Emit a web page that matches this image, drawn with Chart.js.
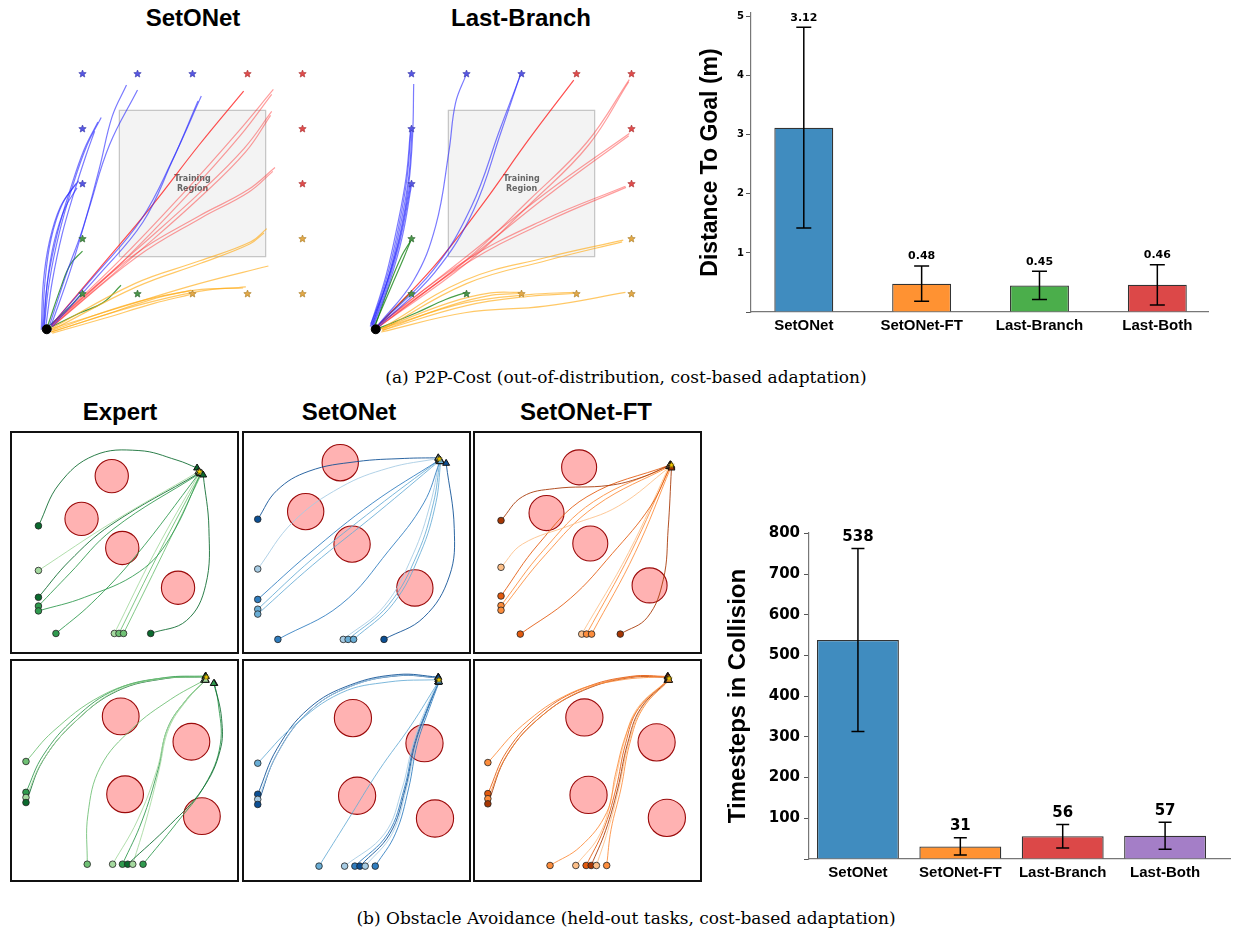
<!DOCTYPE html>
<html>
<head>
<meta charset="utf-8">
<script src="https://cdn.jsdelivr.net/npm/chart.js@4.4.0/dist/chart.umd.min.js"></script>
<style>
    body { margin: 0; background: #fff; width: 1253px; height: 936px; position: relative; overflow: hidden; font-family: "Liberation Sans", Arial, sans-serif; }
    canvas { position: absolute; }
    .title { position: absolute; font-weight: bold; font-size: 24px; transform: translate(-50%, -50%); white-space: nowrap; color: #000; }
    .caption { position: absolute; font-family: "DejaVu Serif", serif; font-size: 17px; transform: translate(-50%, -50%); white-space: nowrap; color: #000; }
    .panel { position: absolute; width: 229px; height: 223px; border: 2.5px solid #111; box-sizing: border-box; }
    .panel canvas { position: static; display: block; }
</style>
</head>
<body>
<div class="title" style="left:193px; top:18px">SetONet</div>
<div class="title" style="left:521px; top:18px">Last-Branch</div>
<canvas id="p2pSetonet" width="308" height="308" style="left:22px; top:46px"></canvas>
<canvas id="p2pLastBranch" width="308" height="308" style="left:351px; top:46px"></canvas>
<canvas id="p2pBars" width="563" height="340" style="left:690px; top:0px"></canvas>
<div class="caption" style="left:626px; top:377px">(a) P2P-Cost (out-of-distribution, cost-based adaptation)</div>

<div class="title" style="left:120px; top:412px">Expert</div>
<div class="title" style="left:349px; top:412px">SetONet</div>
<div class="title" style="left:586px; top:412px">SetONet-FT</div>
<div class="panel" style="left:10px; top:431px"><canvas id="obsExpert1" width="224" height="218"></canvas></div>
<div class="panel" style="left:242px; top:431px"><canvas id="obsSetonet1" width="224" height="218"></canvas></div>
<div class="panel" style="left:473px; top:431px"><canvas id="obsFT1" width="224" height="218"></canvas></div>
<div class="panel" style="left:10px; top:659px"><canvas id="obsExpert2" width="224" height="218"></canvas></div>
<div class="panel" style="left:242px; top:659px"><canvas id="obsSetonet2" width="224" height="218"></canvas></div>
<div class="panel" style="left:473px; top:659px"><canvas id="obsFT2" width="224" height="218"></canvas></div>
<canvas id="obsBars" width="543" height="400" style="left:710px; top:490px"></canvas>
<div class="caption" style="left:626px; top:918px">(b) Obstacle Avoidance (held-out tasks, cost-based adaptation)</div>

<script>
// ---------- (a) P2P-Cost: goal grid, start, training region (grid units) ----------
const startPoint = [0.35, 0.35];
const trainingRegion = [1.67, 1.67, 4.33, 4.33];
const goalsBlue = [[1, 5], [2, 5], [3, 5], [1, 4], [1, 3]];
const goalsRed = [[4, 5], [5, 5], [5, 4], [5, 3]];
const goalsOrange = [[5, 2], [3, 1], [4, 1], [5, 1]];
const goalsGreen = [[1, 2], [1, 1], [2, 1]];

// SetONet rollouts
const setonetBlue = [
    [[0.30, 0.36], [0.40, 1.23], [0.58, 2.11], [0.81, 2.92], [1.08, 3.69], [1.34, 4.20]],
    [[0.28, 0.36], [0.37, 1.25], [0.55, 2.12], [0.78, 2.90], [1.03, 3.62], [1.28, 4.12]],
    [[0.33, 0.38], [0.45, 1.22], [0.63, 2.08], [0.86, 2.88], [1.06, 3.50], [1.22, 3.95]],
    [[0.27, 0.36], [0.32, 1.24], [0.43, 2.00], [0.64, 2.64], [0.93, 3.05]],
    [[0.25, 0.34], [0.29, 1.22], [0.40, 1.95], [0.60, 2.58], [0.88, 3.00]],
    [[0.30, 0.38], [0.36, 1.20], [0.48, 1.92], [0.68, 2.55], [0.90, 2.92]],
    [[0.40, 0.42], [0.73, 1.42], [1.02, 2.23], [1.31, 3.29], [1.54, 4.22], [1.80, 4.79]],
    [[0.43, 0.42], [0.78, 1.42], [1.13, 2.58], [1.49, 3.70], [2.00, 4.70]],
    [[0.43, 0.42], [1.25, 1.36], [2.07, 2.35], [2.65, 3.46], [3.16, 4.59]],
    [[0.45, 0.40], [1.28, 1.32], [2.10, 2.30], [2.62, 3.38], [3.10, 4.50]]
];
const setonetRed = [
    [[0.43, 0.42], [1.37, 1.53], [2.25, 2.58], [3.12, 3.70], [3.93, 4.68]],
    [[0.43, 0.42], [1.66, 1.59], [2.83, 2.82], [3.82, 3.93], [4.47, 4.71]],
    [[0.45, 0.40], [1.70, 1.55], [2.88, 2.76], [3.86, 3.86], [4.44, 4.62]],
    [[0.43, 0.42], [1.95, 1.77], [3.12, 2.82], [3.94, 3.64], [4.44, 4.31]],
    [[0.45, 0.40], [1.98, 1.72], [3.15, 2.76], [3.97, 3.58], [4.42, 4.24]],
    [[0.43, 0.42], [1.95, 1.71], [3.12, 2.41], [4.00, 2.88], [4.50, 3.29]],
    [[0.45, 0.40], [1.98, 1.66], [3.15, 2.37], [4.02, 2.84], [4.46, 3.22]]
];
const setonetOrange = [
    [[0.43, 0.36], [1.95, 1.18], [3.12, 1.59], [4.06, 1.94], [4.35, 2.18]],
    [[0.45, 0.34], [1.98, 1.12], [3.15, 1.55], [4.04, 1.90], [4.30, 2.10]],
    [[0.43, 0.36], [1.95, 0.83], [3.12, 1.18], [4.38, 1.50]],
    [[0.43, 0.30], [1.95, 0.77], [3.12, 1.04], [3.97, 1.12]],
    [[0.45, 0.33], [1.90, 0.82], [3.05, 1.06], [3.92, 1.10]],
    [[0.43, 0.30], [1.37, 0.60], [2.25, 0.89], [2.98, 1.06]],
    [[0.45, 0.28], [1.40, 0.55], [2.30, 0.82], [2.95, 0.98]]
];
const setonetGreen = [
    [[0.37, 0.42], [0.61, 1.12], [0.78, 1.53], [1.00, 1.77]],
    [[0.37, 0.36], [0.96, 0.65], [1.37, 0.83], [1.70, 1.15]],
    [[0.37, 0.39], [0.78, 0.77], [1.02, 1.04]]
];

// Last-Branch rollouts
const lastBranchBlue = [
    [[0.26, 0.45], [0.57, 1.24], [0.80, 2.12], [0.95, 2.99], [1.02, 3.87], [1.04, 4.81]],
    [[0.27, 0.42], [0.57, 1.36], [0.77, 2.23], [0.92, 3.11], [0.99, 3.98]],
    [[0.25, 0.40], [0.54, 1.34], [0.74, 2.22], [0.90, 3.10], [0.98, 3.95]],
    [[0.29, 0.43], [0.60, 1.38], [0.80, 2.25], [0.95, 3.12], [1.01, 3.99]],
    [[0.29, 0.39], [0.57, 1.18], [0.80, 2.00], [0.99, 2.98]],
    [[0.27, 0.38], [0.54, 1.16], [0.78, 1.98], [0.97, 2.96]],
    [[0.31, 0.41], [0.60, 1.20], [0.83, 2.02], [1.00, 2.97]],
    [[0.39, 0.42], [1.04, 1.24], [1.44, 2.23], [1.68, 3.58], [1.80, 4.46], [1.99, 4.97]],
    [[0.39, 0.42], [1.39, 1.42], [2.09, 2.58], [2.61, 3.99], [2.98, 4.97]],
    [[0.41, 0.40], [1.42, 1.38], [2.13, 2.52], [2.63, 3.94], [2.97, 4.95]]
];
const lastBranchRed = [
    [[0.39, 0.42], [1.39, 1.47], [2.26, 2.58], [3.14, 3.81], [3.95, 4.88]],
    [[0.39, 0.42], [1.97, 1.59], [3.14, 2.70], [4.19, 3.75], [4.96, 4.89]],
    [[0.41, 0.40], [2.00, 1.55], [3.18, 2.65], [4.22, 3.70], [4.95, 4.85]],
    [[0.39, 0.42], [1.97, 1.65], [3.43, 2.82], [4.96, 3.91]],
    [[0.41, 0.40], [2.00, 1.60], [3.46, 2.77], [4.95, 3.87]],
    [[0.39, 0.42], [1.97, 1.59], [3.43, 2.35], [4.89, 2.95]],
    [[0.41, 0.40], [2.00, 1.55], [3.46, 2.31], [4.90, 2.93]]
];
const lastBranchOrange = [
    [[0.45, 0.36], [1.97, 1.24], [3.43, 1.65], [4.85, 1.97]],
    [[0.47, 0.34], [2.00, 1.18], [3.46, 1.60], [4.83, 1.94]],
    [[0.45, 0.30], [1.97, 0.65], [3.43, 0.77], [4.89, 1.02]],
    [[0.45, 0.36], [1.97, 0.83], [3.14, 0.98], [3.95, 1.02]],
    [[0.47, 0.33], [2.00, 0.78], [3.16, 0.95], [3.94, 1.00]],
    [[0.45, 0.36], [1.68, 0.83], [2.44, 1.01], [2.98, 1.02]],
    [[0.47, 0.33], [1.70, 0.78], [2.46, 0.97], [2.97, 1.00]]
];
const lastBranchGreen = [
    [[0.33, 0.42], [0.63, 1.12], [0.86, 1.65], [0.99, 1.97]],
    [[0.35, 0.44], [0.60, 1.15], [0.82, 1.68], [0.98, 1.95]],
    [[0.39, 0.36], [1.09, 0.65], [1.62, 0.89], [1.99, 1.02]],
    [[0.36, 0.39], [0.74, 0.77], [0.99, 1.02]]
];

// Bar chart data
const methods = ['SetONet', 'SetONet-FT', 'Last-Branch', 'Last-Both'];
const distMean = [3.12, 0.48, 0.45, 0.46];
const distStd = [1.70, 0.30, 0.24, 0.34];
const distTicks = [0, 1, 2, 3, 4, 5];
const collisionMean = [538, 31, 56, 57];
const collisionStd = [225, 21, 29, 33];
const collisionTicks = [0, 100, 200, 300, 400, 500, 600, 700, 800];

// ---------- (b) Obstacle avoidance panels (0..10 box units) ----------
// obstacles: [x, y, radius]; paths: [shade level, points]
const expertObs1 = [[4.44, 8.10, 0.76], [3.06, 6.09, 0.76], [4.92, 4.72, 0.76], [7.47, 2.85, 0.76]];
const expertGoal1 = [8.45, 8.32];
const expertPaths1 = [
    [3, [[1.09, 5.76], [2.04, 7.73], [3.64, 9.07], [5.68, 9.30], [7.42, 8.85], [8.34, 8.48]]],
    [0, [[1.09, 3.66], [4.50, 5.95], [8.40, 8.30]]],
    [3, [[1.09, 2.40], [2.50, 4.10], [4.40, 5.80], [8.45, 8.25]]],
    [2, [[1.09, 1.99], [2.50, 3.50], [4.50, 5.60], [8.50, 8.25]]],
    [2, [[1.09, 1.76], [3.20, 2.40], [5.70, 3.60], [7.10, 5.20], [8.50, 8.20]]],
    [2, [[1.89, 0.70], [3.50, 2.10], [5.50, 4.30], [8.45, 8.25]]],
    [0, [[4.56, 0.70], [6.40, 4.50], [8.45, 8.25]]],
    [1, [[4.77, 0.70], [6.60, 4.50], [8.50, 8.22]]],
    [1, [[4.98, 0.70], [6.80, 4.50], [8.55, 8.22]]],
    [3, [[6.22, 0.70], [7.86, 1.31], [8.73, 2.96], [8.88, 5.64], [8.62, 8.15]]]
];
const setonetObs1 = [[4.28, 8.73, 0.83], [2.70, 6.43, 0.83], [4.82, 4.90, 0.83], [7.69, 2.84, 0.83]];
const setonetGoal1 = [8.80, 8.92];
const setonetPaths1 = [
    [3, [[0.51, 6.07], [1.39, 7.43], [2.85, 8.33], [5.04, 8.78], [7.23, 8.93], [8.76, 8.96]]],
    [0, [[0.51, 3.73], [2.12, 5.94], [4.31, 7.58], [6.50, 8.48], [8.76, 8.93]]],
    [2, [[0.51, 2.30], [2.85, 4.45], [5.77, 6.84], [8.80, 8.85]]],
    [1, [[0.51, 1.84], [3.00, 4.20], [5.90, 6.60], [8.80, 8.85]]],
    [1, [[0.51, 1.61], [3.00, 3.90], [6.00, 6.40], [8.85, 8.85]]],
    [2, [[1.43, 0.42], [4.31, 2.06], [6.50, 4.60], [8.10, 6.84], [8.83, 8.78]]],
    [0, [[4.42, 0.42], [6.30, 2.00], [7.60, 4.40], [8.40, 6.80], [8.80, 8.80]]],
    [1, [[4.64, 0.42], [6.50, 2.06], [7.81, 4.45], [8.54, 6.84], [8.83, 8.78]]],
    [1, [[4.89, 0.42], [6.70, 2.10], [7.95, 4.50], [8.65, 6.84], [8.87, 8.78]]],
    [3, [[6.28, 0.42], [8.10, 1.46], [9.27, 3.40], [9.49, 5.64], [9.12, 8.70]]]
];
const ftObs1 = [[4.64, 8.51, 0.80], [3.15, 6.36, 0.80], [5.15, 4.93, 0.80], [7.86, 2.96, 0.80]];
const ftGoal1 = [8.86, 8.63];
const ftPaths1 = [
    [3, [[1.07, 6.01], [2.05, 7.13], [3.51, 7.51], [6.00, 7.66], [7.47, 8.03], [8.81, 8.63]]],
    [0, [[1.07, 3.81], [2.05, 4.90], [4.25, 5.79], [6.44, 6.69], [8.81, 8.55]]],
    [2, [[1.07, 2.46], [2.78, 4.90], [5.00, 7.13], [8.81, 8.63]]],
    [1, [[1.07, 2.01], [3.00, 4.60], [5.30, 6.90], [8.81, 8.60]]],
    [1, [[1.07, 1.79], [3.10, 4.40], [5.40, 6.70], [8.85, 8.60]]],
    [2, [[1.95, 0.67], [4.25, 2.36], [6.15, 4.45], [7.91, 6.69], [8.81, 8.55]]],
    [0, [[4.76, 0.67], [6.90, 4.50], [8.75, 8.55]]],
    [1, [[4.98, 0.67], [7.00, 4.50], [8.80, 8.55]]],
    [1, [[5.21, 0.67], [7.20, 4.50], [8.85, 8.55]]],
    [3, [[6.52, 0.67], [7.76, 1.46], [8.49, 3.25], [8.71, 5.64], [8.86, 8.48]]]
];
const expertObs2 = [[4.85, 7.52, 0.84], [8.08, 6.33, 0.84], [5.05, 3.86, 0.84], [8.56, 2.83, 0.84]];
const expertGoal2 = [8.76, 9.38];
const expertPaths2 = [
    [1, [[0.52, 5.40], [1.75, 6.81], [3.93, 8.47], [6.11, 9.22], [8.73, 9.40]]],
    [2, [[0.52, 3.95], [1.31, 5.70], [2.77, 7.45], [4.66, 8.80], [6.84, 9.34], [8.73, 9.42]]],
    [0, [[0.52, 3.71], [1.35, 5.55], [2.85, 7.35], [4.70, 8.75], [6.90, 9.32], [8.73, 9.40]]],
    [3, [[0.52, 3.47], [1.30, 5.45], [2.80, 7.30], [4.70, 8.72], [6.90, 9.30], [8.73, 9.38]]],
    [1, [[3.32, 0.57], [3.35, 2.90], [3.93, 5.16], [5.39, 6.96], [7.13, 8.32], [8.66, 9.22]]],
    [0, [[4.48, 0.57], [5.60, 2.60], [6.50, 5.00], [7.00, 6.96], [7.86, 8.32], [8.73, 9.22]]],
    [2, [[4.93, 0.57], [5.82, 2.60], [6.55, 5.00], [6.99, 6.96], [7.86, 8.32], [8.73, 9.22]]],
    [3, [[5.17, 0.57], [7.13, 2.45], [8.59, 4.11], [9.39, 5.91], [9.46, 7.41], [9.13, 9.07]]],
    [0, [[5.40, 0.57], [6.00, 2.60], [6.60, 5.00], [7.05, 6.96], [7.90, 8.32], [8.73, 9.22]]],
    [2, [[5.87, 0.57], [7.40, 2.50], [8.70, 4.30], [9.40, 6.20], [9.30, 8.20], [9.10, 9.07]]]
];
const setonetObs2 = [[4.86, 7.44, 0.85], [8.13, 6.26, 0.85], [5.05, 3.79, 0.85], [8.61, 2.72, 0.85]];
const setonetGoal2 = [8.79, 9.25];
const setonetPaths2 = [
    [1, [[0.51, 5.32], [2.12, 7.04], [4.31, 8.62], [6.50, 9.14], [8.76, 9.25]]],
    [3, [[0.51, 3.86], [1.39, 6.00], [2.85, 7.90], [4.74, 9.00], [6.93, 9.49], [8.76, 9.37]]],
    [0, [[0.51, 3.62], [1.45, 5.85], [2.90, 7.80], [4.80, 8.95], [6.95, 9.45], [8.76, 9.35]]],
    [3, [[0.51, 3.38], [1.39, 5.75], [2.85, 7.75], [4.74, 8.93], [6.93, 9.43], [8.76, 9.33]]],
    [1, [[3.31, 0.48], [4.60, 2.60], [6.06, 5.00], [7.52, 7.11], [8.76, 9.14]]],
    [0, [[4.48, 0.48], [6.30, 2.00], [7.10, 4.10], [7.60, 6.20], [8.20, 7.90], [8.76, 9.14]]],
    [2, [[4.95, 0.48], [6.45, 2.00], [7.20, 4.11], [7.66, 6.23], [8.25, 7.89], [8.76, 9.14]]],
    [3, [[5.18, 0.48], [6.55, 2.00], [7.25, 4.11], [7.70, 6.23], [8.28, 7.89], [8.78, 9.14]]],
    [0, [[5.42, 0.48], [6.65, 2.00], [7.30, 4.11], [7.75, 6.23], [8.30, 7.89], [8.78, 9.14]]],
    [2, [[5.88, 0.48], [6.80, 2.00], [7.40, 4.11], [7.80, 6.23], [8.35, 7.89], [8.80, 9.14]]]
];
const ftObs2 = [[4.88, 7.47, 0.85], [8.18, 6.30, 0.85], [5.07, 3.83, 0.85], [8.65, 2.75, 0.85]];
const ftGoal2 = [8.75, 9.32];
const ftPaths2 = [
    [1, [[0.47, 5.35], [2.06, 7.11], [4.26, 8.62], [6.47, 9.22], [8.68, 9.40]]],
    [2, [[0.47, 3.89], [1.35, 5.90], [2.94, 7.70], [4.85, 8.85], [7.00, 9.40], [8.70, 9.40]]],
    [1, [[0.47, 3.65], [1.40, 5.80], [3.00, 7.60], [4.90, 8.80], [7.05, 9.38], [8.70, 9.38]]],
    [3, [[0.47, 3.41], [1.35, 5.70], [2.94, 7.55], [4.85, 8.75], [7.00, 9.35], [8.70, 9.36]]],
    [1, [[3.31, 0.51], [4.70, 1.40], [5.90, 3.00], [6.30, 4.80], [6.76, 6.60], [7.35, 7.89], [8.68, 9.22]]],
    [0, [[4.49, 0.51], [5.60, 2.00], [6.20, 4.10], [6.70, 6.30], [7.30, 7.90], [8.68, 9.22]]],
    [2, [[4.96, 0.51], [5.74, 2.15], [6.32, 4.11], [6.76, 6.23], [7.35, 7.89], [8.70, 9.22]]],
    [3, [[5.19, 0.51], [5.85, 2.15], [6.40, 4.11], [6.85, 6.23], [7.45, 7.89], [8.72, 9.22]]],
    [0, [[5.43, 0.51], [5.95, 2.15], [6.45, 4.11], [6.90, 6.23], [7.50, 7.89], [8.74, 9.22]]],
    [1, [[5.90, 0.51], [6.10, 2.20], [6.55, 4.11], [6.95, 6.23], [7.55, 7.89], [8.75, 9.22]]]
];

// ---------- styles ----------
const greens = ['#a5d99f', '#6fc074', '#2f9a4e', '#0b6a2e'];
const blues = ['#a6cbe3', '#69add5', '#2f7dbf', '#0b4f94'];
const oranges = ['#fdbf88', '#fd8d3c', '#e35a0e', '#a63603'];
const barColors = ['#408cbf', '#ff9232', '#4bae4b', '#dc4848'];
const barColors2 = ['#408cbf', '#ff9232', '#dc4848', '#a47ec7'];

function starImage(fill, stroke, size) {
    const c = document.createElement('canvas');
    c.width = c.height = size;
    const g = c.getContext('2d');
    const cx = size / 2, cy = size / 2 + 0.4, R = size / 2 - 0.6, r = R * 0.45;
    g.beginPath();
    for (let i = 0; i < 10; i++) {
        const a = -Math.PI / 2 + i * Math.PI / 5;
        const rr = i % 2 ? r : R;
        g.lineTo(cx + rr * Math.cos(a), cy + rr * Math.sin(a));
    }
    g.closePath();
    g.fillStyle = fill;
    g.fill();
    g.strokeStyle = stroke;
    g.lineWidth = 0.6;
    g.stroke();
    return c;
}

const toXY = pts => pts.map(([x, y]) => ({ x, y }));

function lineSet(pts, color, width) {
    return { data: toXY(pts), showLine: true, borderColor: color, borderWidth: width, pointRadius: 0, tension: 0.4, fill: false, order: 5 };
}

const hiddenScale = (min, max) => ({ type: 'linear', display: false, min, max });

// Training region box + label
const regionPlugin = {
    id: 'region',
    beforeDatasetsDraw(chart) {
        const { ctx, scales: { x, y } } = chart;
        const [x0, y0, x1, y1] = trainingRegion;
        const l = x.getPixelForValue(x0), r = x.getPixelForValue(x1);
        const t = y.getPixelForValue(y1), b = y.getPixelForValue(y0);
        ctx.save();
        ctx.fillStyle = '#f3f3f3';
        ctx.fillRect(l, t, r - l, b - t);
        ctx.strokeStyle = '#c4c4c4';
        ctx.lineWidth = 1.2;
        ctx.strokeRect(l, t, r - l, b - t);
        ctx.fillStyle = '#666';
        ctx.font = 'bold 8px "DejaVu Sans"';
        ctx.textAlign = 'center';
        ctx.textBaseline = 'middle';
        const cx = (l + r) / 2, cy = (t + b) / 2;
        ctx.fillText('Training', cx, cy - 5);
        ctx.fillText('Region', cx, cy + 5);
        ctx.restore();
    }
};

function p2pChart(id, blue, red, orange, green) {
    const datasets = [];
    blue.forEach(p => datasets.push(lineSet(p, 'rgba(40,40,255,0.62)', 1.2)));
    red.forEach((p, i) => datasets.push(lineSet(p, i === 0 ? 'rgba(255,20,20,0.75)' : 'rgba(255,40,40,0.45)', 1.2)));
    orange.forEach(p => datasets.push(lineSet(p, 'rgba(255,170,20,0.65)', 1.2)));
    green.forEach(p => datasets.push(lineSet(p, 'rgba(10,125,10,0.75)', 1.2)));
    [[goalsBlue, '#5757e3', '#3535a8'], [goalsRed, '#e04c4c', '#a82f2f'],
     [goalsOrange, '#e2a848', '#a87a24'], [goalsGreen, '#4a944a', '#2a622a']].forEach(([pts, fill, stroke]) => {
        datasets.push({ data: toXY(pts), pointStyle: starImage(fill, stroke, 9), pointRadius: 4, order: 1 });
    });
    datasets.push({ data: toXY([startPoint]), pointRadius: 4.5, backgroundColor: '#000', borderColor: '#000', order: 0 });

    new Chart(document.getElementById(id), {
        type: 'scatter',
        data: { datasets },
        options: {
            responsive: false,
            animation: false,
            layout: { padding: 0 },
            plugins: { legend: { display: false }, tooltip: { enabled: false } },
            scales: { x: hiddenScale(0, 5.4), y: hiddenScale(0, 5.4) }
        },
        plugins: [regionPlugin]
    });
}

function obstacleChart(id, obstacles, paths, goal, cmap) {
    const datasets = [];
    datasets.push({
        data: obstacles.map(([x, y, r]) => ({ x, y, r })),
        pointRadius: ctx => {
            const s = ctx.chart.scales.x;
            return ctx.raw ? Math.abs(s.getPixelForValue(ctx.raw.r) - s.getPixelForValue(0)) : 0;
        },
        backgroundColor: '#ffb2b2',
        borderColor: '#9b0a0a',
        borderWidth: 1.1,
        order: 10
    });
    paths.forEach(([lvl, pts]) => datasets.push(lineSet(pts, cmap[lvl] + 'dd', 1)));
    datasets.push({
        data: toXY(paths.map(p => p[1][0])),
        pointRadius: 3.3,
        backgroundColor: paths.map(p => cmap[p[0]]),
        borderColor: '#222',
        borderWidth: 0.8,
        order: 2
    });
    datasets.push({
        data: toXY(paths.map(p => p[1][p[1].length - 1])),
        pointStyle: 'triangle',
        pointRadius: 4,
        backgroundColor: paths.map(p => cmap[p[0]]),
        borderColor: '#111',
        borderWidth: 1,
        order: 1
    });
    datasets.push({ data: toXY([goal]), pointStyle: starImage('#ffd700', '#8a7000', 7), pointRadius: 3, order: 0 });

    new Chart(document.getElementById(id), {
        type: 'scatter',
        data: { datasets },
        options: {
            responsive: false,
            animation: false,
            layout: { padding: 0 },
            plugins: { legend: { display: false }, tooltip: { enabled: false } },
            scales: { x: hiddenScale(0.11, 9.89), y: hiddenScale(0.11, 9.89) }
        }
    });
}

function errorBarPlugin(means, stds, cap, font, gap, decimals) {
    return {
        id: 'errorBars',
        afterDatasetsDraw(chart) {
            const { ctx, scales: { y } } = chart;
            const meta = chart.getDatasetMeta(0);
            ctx.save();
            meta.data.forEach((bar, i) => {
                const yt = y.getPixelForValue(means[i] + stds[i]);
                const yb = y.getPixelForValue(means[i] - stds[i]);
                ctx.strokeStyle = '#000';
                ctx.lineWidth = 1.5;
                ctx.beginPath();
                ctx.moveTo(bar.x, yt); ctx.lineTo(bar.x, yb);
                ctx.moveTo(bar.x - cap, yt); ctx.lineTo(bar.x + cap, yt);
                ctx.moveTo(bar.x - cap, yb); ctx.lineTo(bar.x + cap, yb);
                ctx.stroke();
                ctx.fillStyle = '#000';
                ctx.font = font;
                ctx.textAlign = 'center';
                ctx.textBaseline = 'bottom';
                ctx.fillText(means[i].toFixed(decimals), bar.x, yt - gap);
            });
            ctx.restore();
        }
    };
}

function barChart(id, cfg) {
    new Chart(document.getElementById(id), {
        type: 'bar',
        data: {
            datasets: [{
                data: cfg.means.map((v, i) => ({ x: i, y: v })),
                backgroundColor: cfg.colors,
                borderColor: '#333',
                borderWidth: 1.3,
                barPercentage: cfg.barPct,
                categoryPercentage: 1
            }]
        },
        options: {
            responsive: false,
            animation: false,
            layout: { padding: cfg.padding },
            plugins: { legend: { display: false }, tooltip: { enabled: false } },
            scales: {
                x: {
                    type: 'linear',
                    min: cfg.xMin,
                    max: cfg.xMax,
                    offset: false,
                    afterBuildTicks: axis => { axis.ticks = methods.map((_, i) => ({ value: i })); },
                    afterFit: s => { s.height = cfg.xHeight; },
                    ticks: { callback: v => methods[v], color: '#000', padding: 5, maxRotation: 0, autoSkip: false,
                             font: { family: 'Liberation Sans', weight: 'bold', size: 15 } },
                    grid: { display: false, drawTicks: false },
                    border: { color: '#777', width: 1.2 }
                },
                y: {
                    min: 0,
                    max: cfg.yMax,
                    afterBuildTicks: axis => { axis.ticks = cfg.ticks.map(v => ({ value: v })); },
                    afterFit: s => { s.width = cfg.yWidth; },
                    ticks: { callback: v => (v === 0 ? '' : v), color: '#000', padding: cfg.tickPad, autoSkip: false,
                             font: { family: 'DejaVu Sans', weight: 'bold', size: cfg.tickSize } },
                    grid: { drawOnChartArea: false, color: '#555', tickLength: 5 },
                    border: { color: '#777', width: 1.2 },
                    title: { display: true, text: cfg.yTitle, color: '#000', padding: { top: cfg.titlePad, bottom: 0 },
                             font: { family: 'Liberation Sans', weight: 'bold', size: cfg.titleSize } }
                }
            }
        },
        plugins: [errorBarPlugin(cfg.means, cfg.stds, cfg.cap, cfg.valueFont, 4, cfg.decimals)]
    });
}

p2pChart('p2pSetonet', setonetBlue, setonetRed, setonetOrange, setonetGreen);
p2pChart('p2pLastBranch', lastBranchBlue, lastBranchRed, lastBranchOrange, lastBranchGreen);

barChart('p2pBars', {
    means: distMean, stds: distStd, colors: barColors, barPct: 0.5, ticks: distTicks,
    xMin: -0.448, xMax: 3.43, yMax: 5.06,
    padding: { left: 0, right: 45, top: 13, bottom: 0 }, xHeight: 28, yWidth: 61,
    tickSize: 10, tickPad: 2, titleSize: 23, titlePad: 7,
    yTitle: 'Distance To Goal (m)', cap: 7.5, valueFont: 'bold 11px "DejaVu Sans"', decimals: 2
});

barChart('obsBars', {
    means: collisionMean, stds: collisionStd, colors: barColors2, barPct: 0.8, ticks: collisionTicks,
    xMin: -0.478, xMax: 3.634, yMax: 801,
    padding: { left: 0, right: 23, top: 43, bottom: 0 }, xHeight: 31, yWidth: 99,
    tickSize: 15, tickPad: 4, titleSize: 24, titlePad: 13.5,
    yTitle: 'Timesteps in Collision', cap: 6.5, valueFont: 'bold 15px "DejaVu Sans"', decimals: 0
});

obstacleChart('obsExpert1', expertObs1, expertPaths1, expertGoal1, greens);
obstacleChart('obsSetonet1', setonetObs1, setonetPaths1, setonetGoal1, blues);
obstacleChart('obsFT1', ftObs1, ftPaths1, ftGoal1, oranges);
obstacleChart('obsExpert2', expertObs2, expertPaths2, expertGoal2, greens);
obstacleChart('obsSetonet2', setonetObs2, setonetPaths2, setonetGoal2, blues);
obstacleChart('obsFT2', ftObs2, ftPaths2, ftGoal2, oranges);
</script>
</body>
</html>
